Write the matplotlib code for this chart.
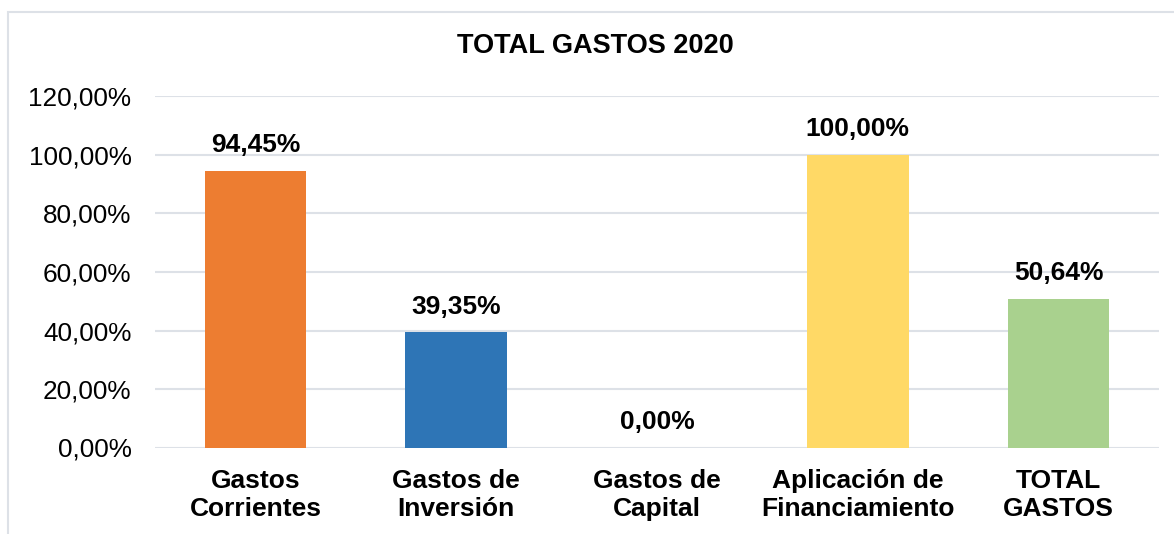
import matplotlib
matplotlib.use("Agg")
import matplotlib.pyplot as plt
from matplotlib.patches import Rectangle

categories = ["Gastos\nCorrientes", "Gastos de\nInversión", "Gastos de\nCapital",
              "Aplicación de\nFinanciamiento", "TOTAL\nGASTOS"]
values = [94.45, 39.35, 0.00, 100.00, 50.64]
colors = ["#ED7D31", "#2E75B6", "#FFFFFF", "#FFD966", "#A9D18E"]
yticks = [0, 20, 40, 60, 80, 100, 120]
title = "TOTAL GASTOS 2020"

plt.rcParams['font.family'] = ['Liberation Sans', 'DejaVu Sans']

fig = plt.figure(figsize=(11.74, 5.34), dpi=100)
ax = fig.add_axes([155/1174, 1-447.5/534, (1159-155)/1174, (447.5-96.5)/534])

x = list(range(len(categories)))
ax.bar(x, values, width=0.505, color=colors, zorder=3)
ax.set_xlim(-0.5, len(categories)-0.5)
ax.set_ylim(0, 120)
ax.set_yticks(yticks)
ax.set_yticklabels([f"{v:.2f}".replace(".", ",") + "%" for v in yticks], fontsize=18.8)
ax.set_xticks(x)
ax.set_xticklabels(categories, fontsize=19, fontweight='bold', linespacing=1.22)
ax.tick_params(axis='both', length=0, colors='black')
ax.tick_params(axis='y', pad=17)
ax.tick_params(axis='x', pad=15.5)
ax.grid(axis='y', color='#DDE1E7', linewidth=1.5, zorder=0)
for s in ax.spines.values():
    s.set_visible(False)

for xi, v in zip(x, values):
    ax.annotate(f"{v:.2f}".replace(".", ",") + "%", (xi, v), xytext=(0, 10),
                textcoords='offset points', ha='center', va='bottom',
                fontsize=19, fontweight='bold', zorder=4)

fig.text(595/1174, 1-46/534, title, ha='center', va='center', fontsize=19.5, fontweight='bold')

fig.patches.append(Rectangle((8/1174, -0.1), 1.2, 1-12/534+0.1, transform=fig.transFigure,
                             fill=False, edgecolor='#DDE1E7', linewidth=1.5))

fig.savefig("out.png", dpi=100)
